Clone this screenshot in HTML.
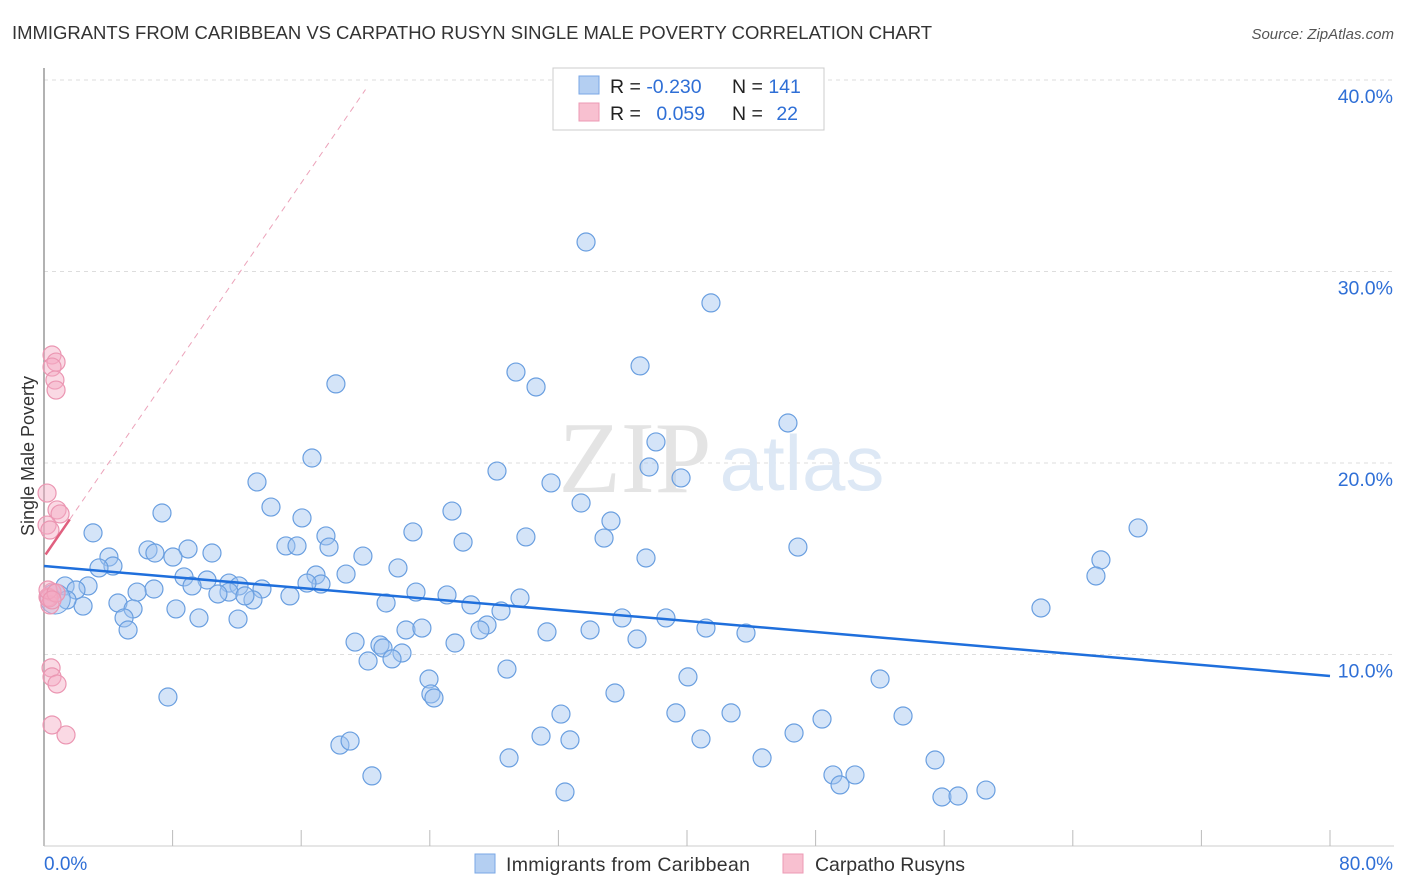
<!DOCTYPE html>
<html><head><meta charset="utf-8"><style>
body{margin:0;background:#fff;font-family:"Liberation Sans",sans-serif;}
svg{display:block}
</style></head><body>
<svg id="chart" width="1406" height="892" xmlns="http://www.w3.org/2000/svg">
<text x="12" y="39" font-size="18.5" fill="#333" textLength="920">IMMIGRANTS FROM CARIBBEAN VS CARPATHO RUSYN SINGLE MALE POVERTY CORRELATION CHART</text>
<text x="1394" y="39" font-size="15" fill="#555" font-style="italic" text-anchor="end">Source: ZipAtlas.com</text>
<g id="grid"></g>
<text x="635" y="492" font-size="102" fill="#e4e4e4" font-family="Liberation Serif,serif" text-anchor="middle">ZIP</text>
<text x="802" y="490" font-size="78" fill="#dde8f5" text-anchor="middle">atlas</text>
<g id="axes"></g>
<g id="pts"></g>
<g id="trend"></g>
<text transform="translate(34,456) rotate(-90)" font-size="18" fill="#333" text-anchor="middle">Single Male Poverty</text>
<g>
<rect x="553" y="68" width="271" height="62" fill="#fff" stroke="#ccc"/>
<rect x="579" y="76" width="20" height="18" fill="#b4cff2" stroke="#7aa7e6"/>
<rect x="579" y="103" width="20" height="18" fill="#f8c0d0" stroke="#ec9ab4"/>
<text x="610" y="93" font-size="19.5" fill="#222">R = <tspan fill="#2f6fd6">-0.230</tspan></text>
<text x="732" y="93" font-size="19.5" fill="#222">N = <tspan fill="#2f6fd6">141</tspan></text>
<text x="610" y="120" font-size="19.5" fill="#222">R = <tspan fill="#2f6fd6" dx="10">0.059</tspan></text>
<text x="732" y="120" font-size="19.5" fill="#222">N = <tspan fill="#2f6fd6" dx="8">22</tspan></text>
</g>
<g>
<rect x="475" y="854" width="20" height="19" fill="#b4cff2" stroke="#7aa7e6"/>
<text x="506" y="871" font-size="19.5" fill="#333" textLength="244">Immigrants from Caribbean</text>
<rect x="783" y="854" width="20" height="19" fill="#f8c0d0" stroke="#ec9ab4"/>
<text x="815" y="871" font-size="19.5" fill="#333" textLength="150">Carpatho Rusyns</text>
</g>
</svg>
<script>
const blueX=[33.72,41.49,29.36,30.61,37.08,18.16,46.28,38.07,37.64,39.63,28.18,31.54,16.67,13.25,33.41,25.38,35.27,14.12,16.05,7.34,22.95,26.07,29.98,34.84,46.90,37.45,68.06,65.75,65.44,62.02,3.05,17.54,17.73,15.05,15.74,19.84,22.02,18.79,16.92,17.23,16.36,8.96,10.45,6.47,6.90,8.02,4.04,4.29,3.42,8.71,10.14,9.21,11.51,12.13,13.56,11.51,10.82,13.00,12.50,15.30,23.14,25.07,29.61,26.56,28.43,35.96,38.69,21.28,6.84,5.79,4.60,5.54,8.21,9.64,12.07,4.98,5.23,2.43,2.74,1.31,1.99,1.43,41.18,43.67,33.97,31.29,27.56,27.12,22.52,23.51,36.89,19.35,20.90,21.09,25.57,22.27,20.16,21.65,28.80,40.06,52.01,23.95,24.07,24.26,7.71,35.52,32.16,39.31,42.74,48.40,53.44,18.41,19.04,30.92,32.72,40.87,46.66,28.93,44.67,55.43,20.40,49.08,50.45,49.52,32.41,55.86,56.86,58.60];
const blueY=[31.54,28.36,24.75,23.97,25.07,24.13,22.09,21.10,19.79,19.22,19.58,18.96,20.26,19.01,17.91,17.49,16.97,17.70,17.13,17.39,16.40,15.87,16.14,16.08,15.61,15.04,16.61,14.94,14.10,12.43,16.35,16.19,15.61,15.67,15.67,15.14,14.52,14.20,14.15,13.68,13.73,15.51,15.30,15.46,15.30,15.09,15.09,14.62,14.52,14.05,13.89,13.58,13.73,13.58,13.42,13.26,13.16,12.85,13.06,13.06,13.26,13.11,12.95,12.59,12.27,11.91,11.91,12.69,13.42,13.26,12.69,12.38,12.38,11.91,11.85,11.91,11.28,12.53,13.58,13.58,13.37,12.85,11.38,11.12,11.28,11.18,11.54,11.28,11.28,11.38,10.81,10.65,10.50,10.34,10.60,10.08,9.66,9.77,9.24,8.83,8.72,8.72,7.94,7.73,7.78,7.99,6.89,6.95,6.95,6.63,6.79,5.27,5.48,5.74,5.54,5.59,5.90,4.60,4.60,4.49,3.66,3.71,3.71,3.19,2.82,2.56,2.61,2.92];
const pinkX=[0.5,0.75,0.5,0.68,0.75,0.19,0.81,1.0,0.19,0.37,0.5,0.25,0.37,0.31,0.44,0.5,0.81,0.5,1.37,0.25,0.75,0.5];
const pinkY=[25.64,25.27,25.01,24.33,23.81,18.43,17.55,17.34,16.76,16.50,13.26,13.00,12.59,12.95,9.30,8.83,8.46,6.32,5.80,13.37,13.21,12.85];
const blueTrend=[14.62,8.88];
const pinkTrend=[15.1,1.22];
const yTicks=[10,20,30,40];
const yTickLabels=["10.0%","20.0%","30.0%","40.0%"];
const xTickCount=10;

const NS="http://www.w3.org/2000/svg";
const X0=44,X1=1330,Y0=846,YTOP=80;
const sx=v=>X0+v*(X1-X0)/80;
const sy=v=>Y0-v*(Y0-YTOP)/40;
function mk(tag,attrs,parent){const e=document.createElementNS(NS,tag);for(const k in attrs)e.setAttribute(k,attrs[k]);parent.appendChild(e);return e;}
const grid=document.getElementById('grid'),axes=document.getElementById('axes'),pts=document.getElementById('pts'),trend=document.getElementById('trend');
yTicks.forEach((t,i)=>{
  const l=mk('line',{x1:X0,x2:1394,y1:sy(t),y2:sy(t),stroke:'#ddd','stroke-dasharray':'4,4'},grid);
  
  
  const tx=mk('text',{x:1393,y:sy(t)+23,'font-size':19.5,fill:'#2f6fd6','text-anchor':'end'},axes);
  tx.textContent=yTickLabels[i];
  
  
});
const la=mk('line',{x1:X0,x2:X0,y1:68,y2:Y0,stroke:'#999','stroke-width':1.5},axes);


const ba=mk('line',{x1:X0,x2:1394,y1:Y0,y2:Y0,stroke:'#ccc'},axes);


for(let i=0;i<=xTickCount;i++){
  const v=i*80/xTickCount;
  const t=mk('line',{x1:sx(v),x2:sx(v),y1:830,y2:Y0,stroke:'#bbb'},axes);
  
  
}
const xl0=mk('text',{x:44,y:870,'font-size':19,fill:'#2f6fd6'},axes);xl0.textContent='0.0%';


const xl1=mk('text',{x:1393,y:870,'font-size':19,fill:'#2f6fd6','text-anchor':'end'},axes);xl1.textContent='80.0%';



blueX.forEach((x,i)=>{
  const c=mk('circle',{cx:sx(x),cy:sy(blueY[i]),r:9,fill:'rgba(160,196,240,0.45)',stroke:'#6a9fe0','stroke-width':1.2},pts);
  
  
});
const big=mk('circle',{cx:sx(0.7),cy:sy(12.9),r:15,fill:'rgba(160,196,240,0.45)',stroke:'#6a9fe0'},pts);


pinkX.forEach((x,i)=>{
  const c=mk('circle',{cx:sx(x),cy:sy(pinkY[i]),r:9,fill:'rgba(245,170,195,0.45)',stroke:'#eb96b2','stroke-width':1.2},pts);
  
  
});
const bt=mk('line',{x1:sx(0),y1:sy(blueTrend[0]),x2:sx(80),y2:sy(blueTrend[1]),stroke:'#1f6fdc','stroke-width':2.5},trend);


const pd=mk('line',{x1:sx(1.6),y1:sy(pinkTrend[0]+pinkTrend[1]*1.6),x2:sx(20),y2:sy(pinkTrend[0]+pinkTrend[1]*20),stroke:'#eca3ba','stroke-width':1,'stroke-dasharray':'6,5'},trend);


const ps=mk('line',{x1:sx(0.1),y1:sy(pinkTrend[0]+pinkTrend[1]*0.1),x2:sx(1.6),y2:sy(pinkTrend[0]+pinkTrend[1]*1.6),stroke:'#e0607f','stroke-width':2.5},trend);


</script>
</body></html>
